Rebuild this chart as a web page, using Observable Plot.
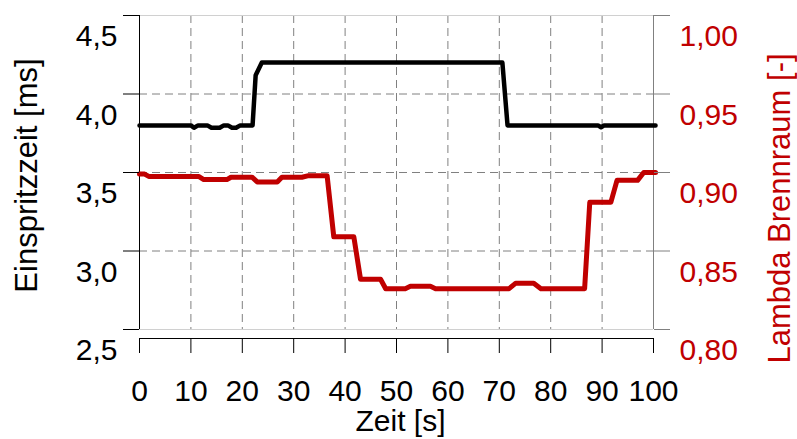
<!DOCTYPE html>
<html><head><meta charset="utf-8">
<script src="https://cdn.jsdelivr.net/npm/d3@7"></script>
<script src="https://cdn.jsdelivr.net/npm/@observablehq/plot@0.6"></script>
<style>body{margin:0;background:#fff;}</style>
</head><body><div id="chart"></div>
<script>
// Einspritzzeit [ms] over Zeit [s]
const einspritzT  = [0, 10, 10.6, 11.4, 13.2, 14, 15.6, 16.4, 17.2, 18, 18.8, 19.6, 22, 22.6, 23.8, 70.6, 71.6, 89.2, 89.8, 90.4, 100.4];
const einspritzMs = [3.80, 3.80, 3.785, 3.80, 3.80, 3.785, 3.785, 3.80, 3.80, 3.785, 3.785, 3.80, 3.80, 4.12, 4.20, 4.20, 3.80, 3.80, 3.788, 3.80, 3.80];
// Lambda Brennraum [-] over Zeit [s]
const lambdaT = [0, 1, 1.8, 11.5, 12.5, 17, 17.8, 21.9, 22.9, 26.8, 27.7, 31.6, 32.9, 36.5, 37.8, 41.7, 43, 46.9, 47.9, 51.7, 52.7, 56.6, 57.6, 71.9, 73.2, 76.7, 78.1, 86.6, 87.6, 91.7, 92.9, 96.9, 98.1, 100.4];
const lambdaV = [0.899, 0.899, 0.8975, 0.8975, 0.8955, 0.8955, 0.897, 0.897, 0.894, 0.894, 0.897, 0.897, 0.898, 0.898, 0.859, 0.859, 0.832, 0.832, 0.826, 0.826, 0.8275, 0.8275, 0.826, 0.826, 0.8295, 0.8295, 0.826, 0.826, 0.881, 0.881, 0.895, 0.895, 0.900, 0.900];
const xTicks = [0, 10, 20, 30, 40, 50, 60, 70, 80, 90, 100];
const yTicksMs = [2.5, 3.0, 3.5, 4.0, 4.5];
const yTicksLambda = [0.80, 0.85, 0.90, 0.95, 1.00];
const xGrid = [10, 20, 30, 40, 50, 60, 70, 80, 90];
const yGrid = [3.0, 3.5, 4.0];

const lamToMs = l => 2.5 + (l - 0.80) * 10;
const black = einspritzT.map((t, i) => ({t, v: einspritzMs[i]}));
const red = lambdaT.map((t, i) => ({t, v: lamToMs(lambdaV[i])}));
const lamLabel = new Map(yTicksMs.map((m, i) => [m, yTicksLambda[i].toFixed(2).replace(".", ",")]));
const RED = "#c00000";
const GRAY = "#808080";
const dash = {stroke: GRAY, strokeOpacity: 1, strokeDasharray: "8,5"};

const chart = Plot.plot({
  width: 797, height: 439,
  marginLeft: 139, marginRight: 144, marginTop: 15, marginBottom: 110,
  style: {fontFamily: "'Liberation Sans', Arial, sans-serif", background: "#fff", color: "#000", overflow: "visible"},
  x: {domain: [0, 100]},
  y: {domain: [2.5, 4.5]},
  marks: [
    Plot.gridX(xGrid, dash),
    Plot.gridY(yGrid, dash),
    Plot.ruleY([2.5, 4.5], {stroke: "#d0d0d0"}),
    Plot.ruleX([100], {stroke: GRAY}),
    Plot.ruleX([0], {stroke: "#000"}),
    Plot.line(red, {x: "t", y: "v", stroke: RED, strokeWidth: 5, strokeLinejoin: "round"}),
    Plot.line(black, {x: "t", y: "v", stroke: "#000", strokeWidth: 4.5, strokeLinejoin: "round"}),
    // left axis
    Plot.axisY(yTicksMs, {anchor: "left", tickSize: 16, fill: "none", stroke: "#000", label: null}),
    Plot.axisY(yTicksMs, {anchor: "left", tickSize: 0, tickPadding: 22, dy: 21, fontSize: 30, fill: "#000",
      tickFormat: d => d.toFixed(1).replace(".", ","), label: null}),
    // right axis
    Plot.axisY(yTicksMs, {anchor: "right", tickSize: 16, fill: "none", stroke: GRAY, label: null}),
    Plot.axisY(yTicksMs, {anchor: "right", tickSize: 0, tickPadding: 26, dy: 21, fontSize: 30, fill: RED,
      tickFormat: d => lamLabel.get(d), label: null}),
    // x axis (offset below frame)
    Plot.ruleY([2.5], {stroke: "#000", dy: 9}),
    Plot.axisX(xTicks, {anchor: "bottom", tickSize: 15, dy: 9, fill: "none", stroke: "#000", label: null}),
    Plot.axisX(xTicks, {anchor: "bottom", tickSize: 0, tickPadding: 50, fontSize: 30, fill: "#000", label: null}),
    // titles
    Plot.text(["Einspritzzeit [ms]"], {frameAnchor: "left", rotate: -90, dx: -112, dy: 3, fontSize: 31,
      textAnchor: "middle", lineAnchor: "middle", fill: "#000"}),
    Plot.text(["Lambda Brennraum [-]"], {frameAnchor: "right", rotate: -90, dx: 127, dy: 36, fontSize: 31,
      textAnchor: "middle", lineAnchor: "middle", fill: RED}),
    Plot.text(["Zeit [s]"], {frameAnchor: "bottom", dy: 80, dx: 4, fontSize: 30,
      textAnchor: "middle", lineAnchor: "top", fill: "#000"})
  ]
});
document.getElementById("chart").appendChild(chart);
</script>
</body></html>
